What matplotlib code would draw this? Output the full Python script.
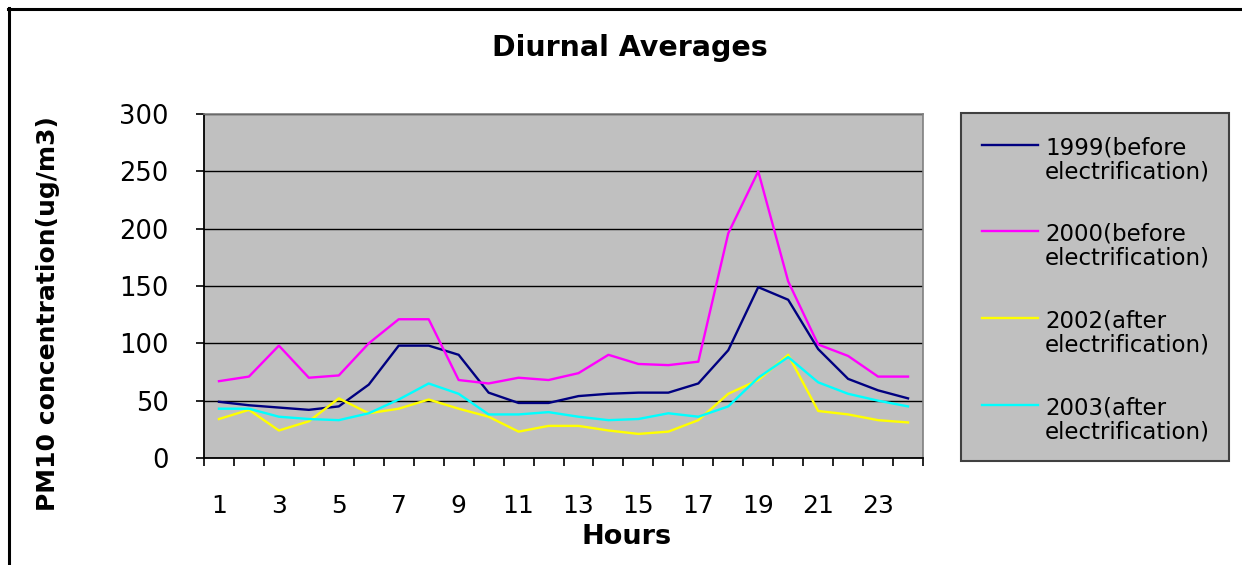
import matplotlib.pyplot as plt
import numpy as np
from matplotlib.patches import Rectangle
from matplotlib.lines import Line2D

plt.rcParams['font.family'] = ['DejaVu Sans']

hours = list(range(1, 25))
pm_1999 = [49, 46, 44, 42, 45, 64, 98, 98, 90, 57, 48, 48, 54, 56, 57, 57, 65, 94, 149, 138, 95, 69, 59, 52]
pm_2000 = [67, 71, 98, 70, 72, 100, 121, 121, 68, 65, 70, 68, 74, 90, 82, 81, 84, 196, 250, 154, 99, 89, 71, 71]
pm_2002 = [34, 42, 24, 32, 52, 39, 43, 51, 43, 36, 23, 28, 28, 24, 21, 23, 33, 56, 68, 90, 41, 38, 33, 31]
pm_2003 = [43, 43, 36, 34, 33, 39, 51, 65, 56, 38, 38, 40, 36, 33, 34, 39, 36, 45, 70, 88, 66, 56, 50, 45]

series = [pm_1999, pm_2000, pm_2002, pm_2003]
labels = [("1999(before", "electrification)"),
          ("2000(before", "electrification)"),
          ("2002(after", "electrification)"),
          ("2003(after", "electrification)")]
colors = ["#000080", "#FF00FF", "#FFFF00", "#00FFFF"]

W, H = 1242, 565


def fx(x):
    return x / W


def fy(y):
    return 1 - y / H


fig = plt.figure(figsize=(W / 100, H / 100), dpi=100)

# frame around the chart (top and left edges only)
fig.add_artist(Line2D([fx(8), 1], [fy(8.5), fy(8.5)], color="black", lw=2.2))
fig.add_artist(Line2D([fx(9), fx(9)], [0, fy(8)], color="black", lw=2.2))

ax = fig.add_axes([fx(204), fy(458), (923 - 204) / W, (458 - 114) / H])
ax.set_facecolor("#C0C0C0")

for vals, col in zip(series, colors):
    ax.plot(hours, vals, color=col, lw=1.7)

ax.set_xlim(0.5, 24.5)
ax.set_ylim(0, 300)
ax.set_yticks(range(0, 301, 50))
ax.yaxis.grid(True, color="black", lw=1.0)
ax.set_axisbelow(True)

# ticks between categories, labels on odd hours
ax.set_xticks(np.arange(0.5, 25, 1))
ax.set_xticklabels([])
ax.set_xticks(hours[::2], minor=True)
ax.set_xticklabels([str(h) for h in hours[::2]], minor=True, fontsize=18)
ax.tick_params(axis="x", which="major", length=6, width=1.2, direction="out")
ax.tick_params(axis="x", which="minor", length=0, pad=26)
ax.tick_params(axis="y", length=6, width=1.2, labelsize=18.5, pad=19.5)

for side in ["left", "bottom"]:
    ax.spines[side].set_color("black")
    ax.spines[side].set_linewidth(1.3)
for side in ["top", "right"]:
    ax.spines[side].set_color("#808080")
    ax.spines[side].set_linewidth(1.2)

fig.text(fx(630), fy(48), "Diurnal Averages", ha="center", va="center",
         fontsize=20.5, fontweight="bold")
fig.text(fx(627), fy(537), "Hours", ha="center", va="center",
         fontsize=19.5, fontweight="bold")
fig.text(fx(48), fy(314), "PM10 concentration(ug/m3)", ha="center", va="center",
         rotation=90, fontsize=18, fontweight="bold")

# legend box
fig.add_artist(Rectangle((fx(961), fy(461)), (1229 - 961) / W, (461 - 113) / H,
                         transform=fig.transFigure, facecolor="#C0C0C0",
                         edgecolor="#404040", lw=1.5))
entry_y = [145, 231, 318, 405]
for (l1, l2), col, y in zip(labels, colors, entry_y):
    fig.add_artist(Line2D([fx(982), fx(1038)], [fy(y), fy(y)], color=col, lw=1.7))
    fig.text(fx(1045), fy(y + 3), l1, ha="left", va="center", fontsize=16.5)
    fig.text(fx(1045), fy(y + 27), l2, ha="left", va="center", fontsize=16.5)

fig.savefig("out.png", dpi=100)
